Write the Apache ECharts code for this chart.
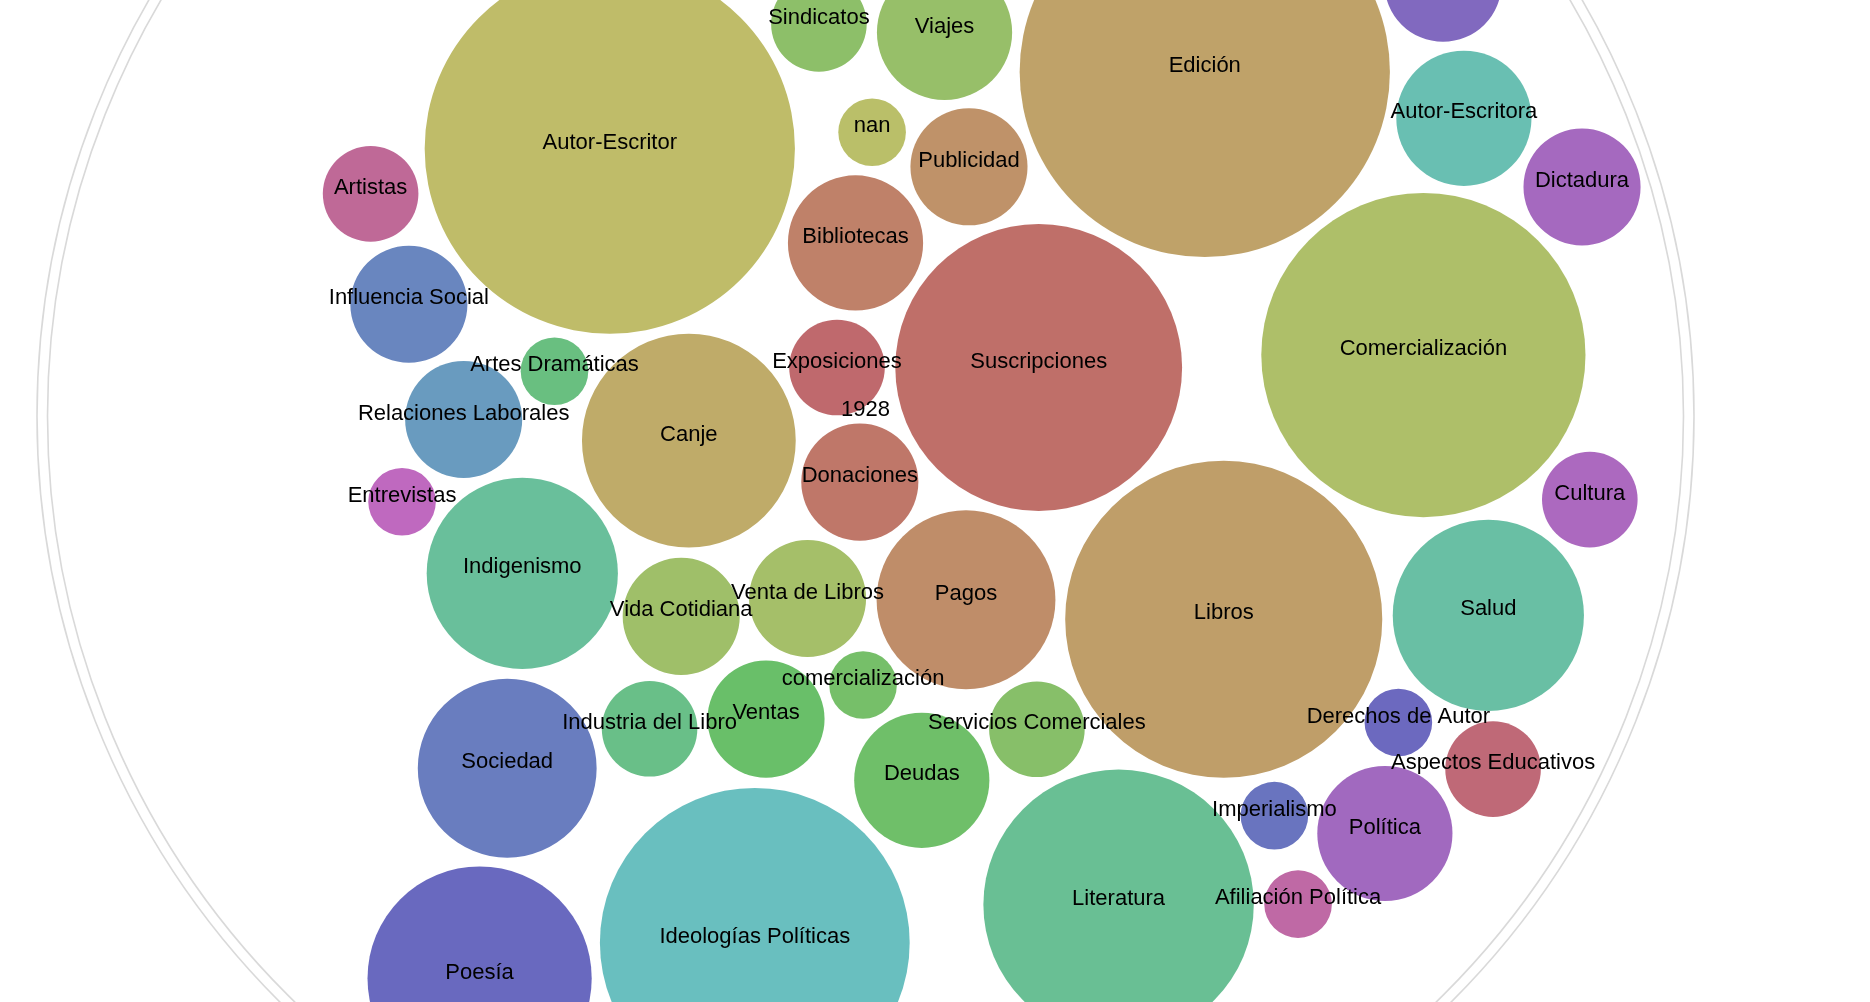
<!DOCTYPE html>
<html>
<head>
<meta charset="utf-8">
<title>1928 – temas</title>
<script src="https://cdn.jsdelivr.net/npm/echarts@6/dist/echarts.min.js"></script>
<style>
  html, body { margin: 0; padding: 0; background: #ffffff; }
  #chart { width: 1870px; height: 1002px; }
</style>
</head>
<body>
<div id="chart"></div>
<script>
// ---------------- DATA (in packing order) ----------------
const yearLabel = '1928';

const categories = [
  'Exposiciones', 'Suscripciones', 'Donaciones', 'Bibliotecas', 'Pagos',
  'Publicidad', 'Edición', 'Libros', 'Canje', 'Autor-Escritor',
  'nan', 'Comercialización', 'Venta de Libros', 'Vida Cotidiana', 'Viajes',
  'Sindicatos', 'Servicios Comerciales', 'comercialización', 'Deudas', 'Ventas',
  'Artes Dramáticas', 'Industria del Libro', 'Literatura', 'Indigenismo', 'Salud',
  'Autor-Escritora', 'Ideologías Políticas', 'Relaciones Laborales', 'Influencia Social', 'Sociedad',
  'Imperialismo', 'Poesía', 'Derechos de Autor', '', 'Política',
  'Dictadura', 'Cultura', 'Entrevistas', 'Afiliación Política', 'Artistas',
  'Aspectos Educativos'
];

const values = [
  2, 18, 3, 4, 7,
  3, 30, 22, 10, 30,
  1, 23, 3, 3, 4,
  2, 2, 1, 4, 3,
  1, 2, 16, 8, 8,
  4, 21, 3, 3, 7,
  1, 11, 1, 3, 4,
  3, 2, 1, 1, 2,
  2
];

// Front-chain pair each circle is packed against (d3-style sibling packing).
const touches = [
  null, null,
  ['Suscripciones', 'Exposiciones'],
  ['Exposiciones', 'Suscripciones'],
  ['Suscripciones', 'Donaciones'],
  ['Bibliotecas', 'Suscripciones'],
  ['Publicidad', 'Suscripciones'],
  ['Suscripciones', 'Pagos'],
  ['Donaciones', 'Exposiciones'],
  ['Canje', 'Bibliotecas'],
  ['Bibliotecas', 'Publicidad'],
  ['Edición', 'Libros'],
  ['Pagos', 'Donaciones'],
  ['Venta de Libros', 'Canje'],
  ['Publicidad', 'Edición'],
  ['Autor-Escritor', 'Viajes'],
  ['Libros', 'Pagos'],
  ['Pagos', 'Venta de Libros'],
  ['Servicios Comerciales', 'comercialización'],
  ['comercialización', 'Venta de Libros'],
  ['Canje', 'Autor-Escritor'],
  ['Ventas', 'Vida Cotidiana'],
  ['Libros', 'Servicios Comerciales'],
  ['Vida Cotidiana', 'Canje'],
  ['Comercialización', 'Libros'],
  ['Edición', 'Comercialización'],
  ['Deudas', 'Ventas'],
  ['Indigenismo', 'Artes Dramáticas'],
  ['Relaciones Laborales', 'Autor-Escritor'],
  ['Industria del Libro', 'Indigenismo'],
  ['Libros', 'Literatura'],
  ['Ideologías Políticas', 'Sociedad'],
  ['Salud', 'Libros'],
  ['Edición', 'Autor-Escritora'],
  ['Derechos de Autor', 'Imperialismo'],
  ['Autor-Escritora', 'Comercialización'],
  ['Comercialización', 'Salud'],
  ['Indigenismo', 'Relaciones Laborales'],
  ['Política', 'Literatura'],
  ['Influencia Social', 'Autor-Escritor'],
  ['Salud', 'Política']
];

// ---------------- STYLE / LAYOUT SETTINGS ----------------
const hues = {
  'Exposiciones': 357, 'Suscripciones': 4, 'Donaciones': 10, 'Bibliotecas': 17, 'Pagos': 25,
  'Publicidad': 29, 'Edición': 40, 'Libros': 37, 'Canje': 46, 'Autor-Escritor': 58,
  'nan': 63, 'Comercialización': 72, 'Venta de Libros': 78, 'Vida Cotidiana': 82, 'Viajes': 88,
  'Sindicatos': 95, 'Servicios Comerciales': 99, 'comercialización': 111, 'Deudas': 116, 'Ventas': 120,
  'Artes Dramáticas': 136, 'Industria del Libro': 142, 'Literatura': 150, 'Indigenismo': 155, 'Salud': 161,
  'Autor-Escritora': 171, 'Ideologías Políticas': 180, 'Relaciones Laborales': 205, 'Influencia Social': 220,
  'Sociedad': 226, 'Imperialismo': 232, 'Poesía': 240, 'Derechos de Autor': 242, '': 257, 'Política': 279,
  'Dictadura': 282, 'Cultura': 287, 'Entrevistas': 300, 'Afiliación Política': 318, 'Artistas': 328,
  'Aspectos Educativos': 350
};
const K = 33.8;          // radius per sqrt(value)
const GAP = 10.5;        // padding between packed circles
const FONT_SIZE = 22;
const FONT = FONT_SIZE + 'px "Liberation Sans", Arial, Helvetica, sans-serif';
// enclosing circle of the year node (its children continue beyond the visible window)
const yearNode = { cx: -120.15, cy: 48.5, r: 818 };
// visible window of the pack (the picture is zoomed in on the middle band)
const VIEW = { xMin: -985.65, xMax: 884.35, yMin: -367.5, yMax: 634.5 };

// ---------------- LAYOUT ----------------
function placeTangent(a, b, r) {
  const dA = a.r + r + GAP, dB = b.r + r + GAP;
  const dx = b.x - a.x, dy = b.y - a.y, d = Math.hypot(dx, dy);
  const ux = dx / d, uy = dy / d;
  const t = (d * d + dA * dA - dB * dB) / (2 * d);
  const h = Math.sqrt(Math.max(0, dA * dA - t * t));
  return { x: a.x + t * ux + h * uy, y: a.y + t * uy - h * ux };
}

function packLeaves() {
  const nodes = categories.map((name, i) => ({ name, value: values[i], r: K * Math.sqrt(values[i]) }));
  const byName = {};
  nodes.forEach(n => { byName[n.name] = n; });
  nodes[0].x = -(nodes[1].r + GAP / 2); nodes[0].y = 0;
  nodes[1].x = nodes[0].r + GAP / 2;   nodes[1].y = 0;
  for (let i = 2; i < nodes.length; i++) {
    const a = byName[touches[i][0]], b = byName[touches[i][1]];
    Object.assign(nodes[i], placeTangent(a, b, nodes[i].r));
  }
  return nodes;
}

const leaves = packLeaves();
const ringData = [
  [yearNode.cx, yearNode.cy, yearNode.r + GAP],
  [yearNode.cx, yearNode.cy, yearNode.r]
];
const leafData = leaves.map(n => [n.x, n.y, n.r]);
const labelData = leaves.map(n => [n.x, n.y, n.name]).concat([[yearNode.cx, yearNode.cy, yearLabel]]);

function colorOf(name) {
  return 'hsl(' + hues[name] + ', 40%, 58%)';
}

const chart = echarts.init(document.getElementById('chart'), null, { renderer: 'canvas' });
chart.setOption({
  animation: false,
  backgroundColor: '#ffffff',
  grid: { left: 0, right: 0, top: 0, bottom: 0 },
  xAxis: { type: 'value', min: VIEW.xMin, max: VIEW.xMax, show: false },
  yAxis: { type: 'value', min: VIEW.yMin, max: VIEW.yMax, inverse: true, show: false },
  series: [
    {
      type: 'custom', name: 'rings', silent: true, z: 1,
      data: ringData,
      renderItem: function (params, api) {
        const p = api.coord([api.value(0), api.value(1)]);
        const r = api.size([api.value(2), 0])[0];
        return { type: 'circle', shape: { cx: p[0], cy: p[1], r: r },
                 style: { fill: 'none', stroke: '#d9d9d9', lineWidth: 1.6 } };
      }
    },
    {
      type: 'custom', name: 'bubbles', silent: true, z: 2,
      data: leafData,
      renderItem: function (params, api) {
        const p = api.coord([api.value(0), api.value(1)]);
        const r = api.size([api.value(2), 0])[0];
        return { type: 'circle', shape: { cx: p[0], cy: p[1], r: r },
                 style: { fill: colorOf(leaves[params.dataIndex].name) } };
      }
    },
    {
      type: 'custom', name: 'labels', silent: true, z: 3,
      data: labelData,
      renderItem: function (params, api) {
        const item = labelData[params.dataIndex];
        if (!item[2]) return null;
        const p = api.coord([item[0], item[1]]);
        return { type: 'text', x: p[0], y: p[1] - FONT_SIZE * 0.27,
                 style: { text: item[2], font: FONT, fill: '#000000',
                          align: 'center', verticalAlign: 'middle' } };
      }
    }
  ]
});
</script>
</body>
</html>
